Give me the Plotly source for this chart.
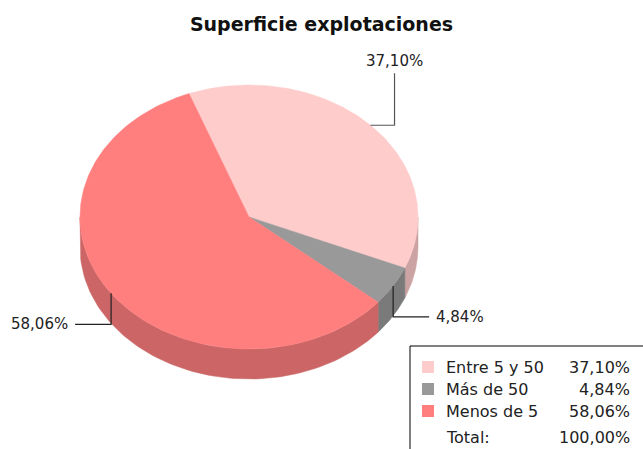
import numpy as np
import plotly.graph_objects as go

# Data
categories = ["Entre 5 y 50", "Más de 50", "Menos de 5"]
values = [37.10, 4.84, 58.06]
value_labels = ["37,10%", "4,84%", "58,06%"]
total_label = "100,00%"
title = "Superficie explotaciones"

# Styling
top_colors = ["#FFCCCC", "#999999", "#FF7F7F"]
side_colors = ["#CCA3A3", "#7A7A7A", "#CC6666"]
W, H = 643, 449
cx, cy = 249, 217          # centre of the top face
rx, ry = 169, 132          # ellipse radii
depth = 30                 # thickness of the pie
start_deg = -20.8          # clockwise from 12 o'clock
font = "DejaVu Sans"


def pt(deg, dy=0.0):
    a = np.radians(deg)
    return cx + rx * np.sin(a), cy - ry * np.cos(a) + dy


fig = go.Figure()

total = sum(values)
bounds = [start_deg]
for v in values:
    bounds.append(bounds[-1] + 360.0 * v / total)

# Side walls (only the front half, 90°..270°, is visible)
for i in range(len(values)):
    a0, a1 = bounds[i], bounds[i + 1]
    for shift in (0, 360, -360):
        lo, hi = max(a0 + shift, 90), min(a1 + shift, 270)
        if hi <= lo:
            continue
        ang = np.linspace(lo, hi, 80)
        xt, yt = pt(ang)
        xb, yb = pt(ang[::-1], depth)
        fig.add_trace(go.Scatter(
            x=np.concatenate([xt, xb, xt[:1]]),
            y=np.concatenate([yt, yb, yt[:1]]),
            mode="lines", fill="toself", fillcolor=side_colors[i],
            line=dict(color=side_colors[i], width=0.5),
            hoverinfo="skip", showlegend=False))

# Top faces
for i in range(len(values)):
    ang = np.linspace(bounds[i], bounds[i + 1], 200)
    xs, ys = pt(ang)
    fig.add_trace(go.Scatter(
        x=np.concatenate([[cx], xs, [cx]]),
        y=np.concatenate([[cy], ys, [cy]]),
        mode="lines", fill="toself", fillcolor=top_colors[i],
        line=dict(color=top_colors[i], width=0.5),
        name=categories[i], hoverinfo="skip", showlegend=False))

# Leader lines and value labels
for i in range(len(values)):
    mid = (bounds[i] + bounds[i + 1]) / 2
    ax, ay = pt(mid)
    m = mid % 360
    side = 1 if ax > cx else -1
    if m < 90 or m > 270:
        # back half: go sideways, then up to the label
        kx = ax + side * 24
        ky = ay - 52
        lx, ly = [ax, kx, kx], [ay, ay, ky]
        tx, ty, anchor, yanch = kx, ky - 1, "center", "bottom"
        color = "#555555"
    else:
        ky = ay + depth + 1
        kx = ax + side * 36
        lx, ly = [ax, ax, kx], [ay, ky, ky]
        tx, ty = kx + side * 5, ky
        anchor, yanch = ("left" if side > 0 else "right"), "middle"
        color = "#222222"
    fig.add_trace(go.Scatter(x=lx, y=ly, mode="lines",
                             line=dict(color=color, width=1.2),
                             hoverinfo="skip", showlegend=False))
    fig.add_annotation(x=tx, y=ty, text=value_labels[i], showarrow=False,
                       xanchor=anchor, yanchor=yanch,
                       font=dict(family=font, size=15, color="#222222"))

# Legend box with values
box_x0, box_y0 = 410, 346
fig.add_shape(type="rect", xref="x", yref="y", x0=box_x0, y0=box_y0,
              x1=W + 5, y1=H + 5, line=dict(color="#000000", width=1),
              fillcolor="white", layer="above")
rows_y = [367, 389, 411]
for i in range(len(values)):
    y = rows_y[i]
    fig.add_shape(type="rect", xref="x", yref="y", x0=422, x1=434,
                  y0=y - 6, y1=y + 6, fillcolor=top_colors[i],
                  line=dict(width=0), layer="above")
    fig.add_annotation(x=444, y=y, text=categories[i], showarrow=False,
                       xanchor="left", yanchor="middle",
                       font=dict(family=font, size=16, color="#222222"))
    fig.add_annotation(x=632, y=y, text=value_labels[i], showarrow=False,
                       xanchor="right", yanchor="middle",
                       font=dict(family=font, size=16, color="#222222"))
fig.add_annotation(x=444, y=437, text="Total:", showarrow=False,
                   xanchor="left", yanchor="middle",
                   font=dict(family=font, size=16, color="#222222"))
fig.add_annotation(x=632, y=437, text=total_label, showarrow=False,
                   xanchor="right", yanchor="middle",
                   font=dict(family=font, size=16, color="#222222"))

fig.update_layout(
    width=W, height=H,
    margin=dict(l=0, r=0, t=0, b=0),
    paper_bgcolor="white", plot_bgcolor="white",
    title=dict(text=f"<b>{title}</b>", x=0.5, xanchor="center",
               y=1 - 24 / H, yanchor="middle",
               font=dict(family=font, size=19, color="#111111")),
    xaxis=dict(range=[0, W], visible=False, fixedrange=True),
    yaxis=dict(range=[H, 0], visible=False, fixedrange=True),
    showlegend=False,
)

fig.write_html("out.html")
